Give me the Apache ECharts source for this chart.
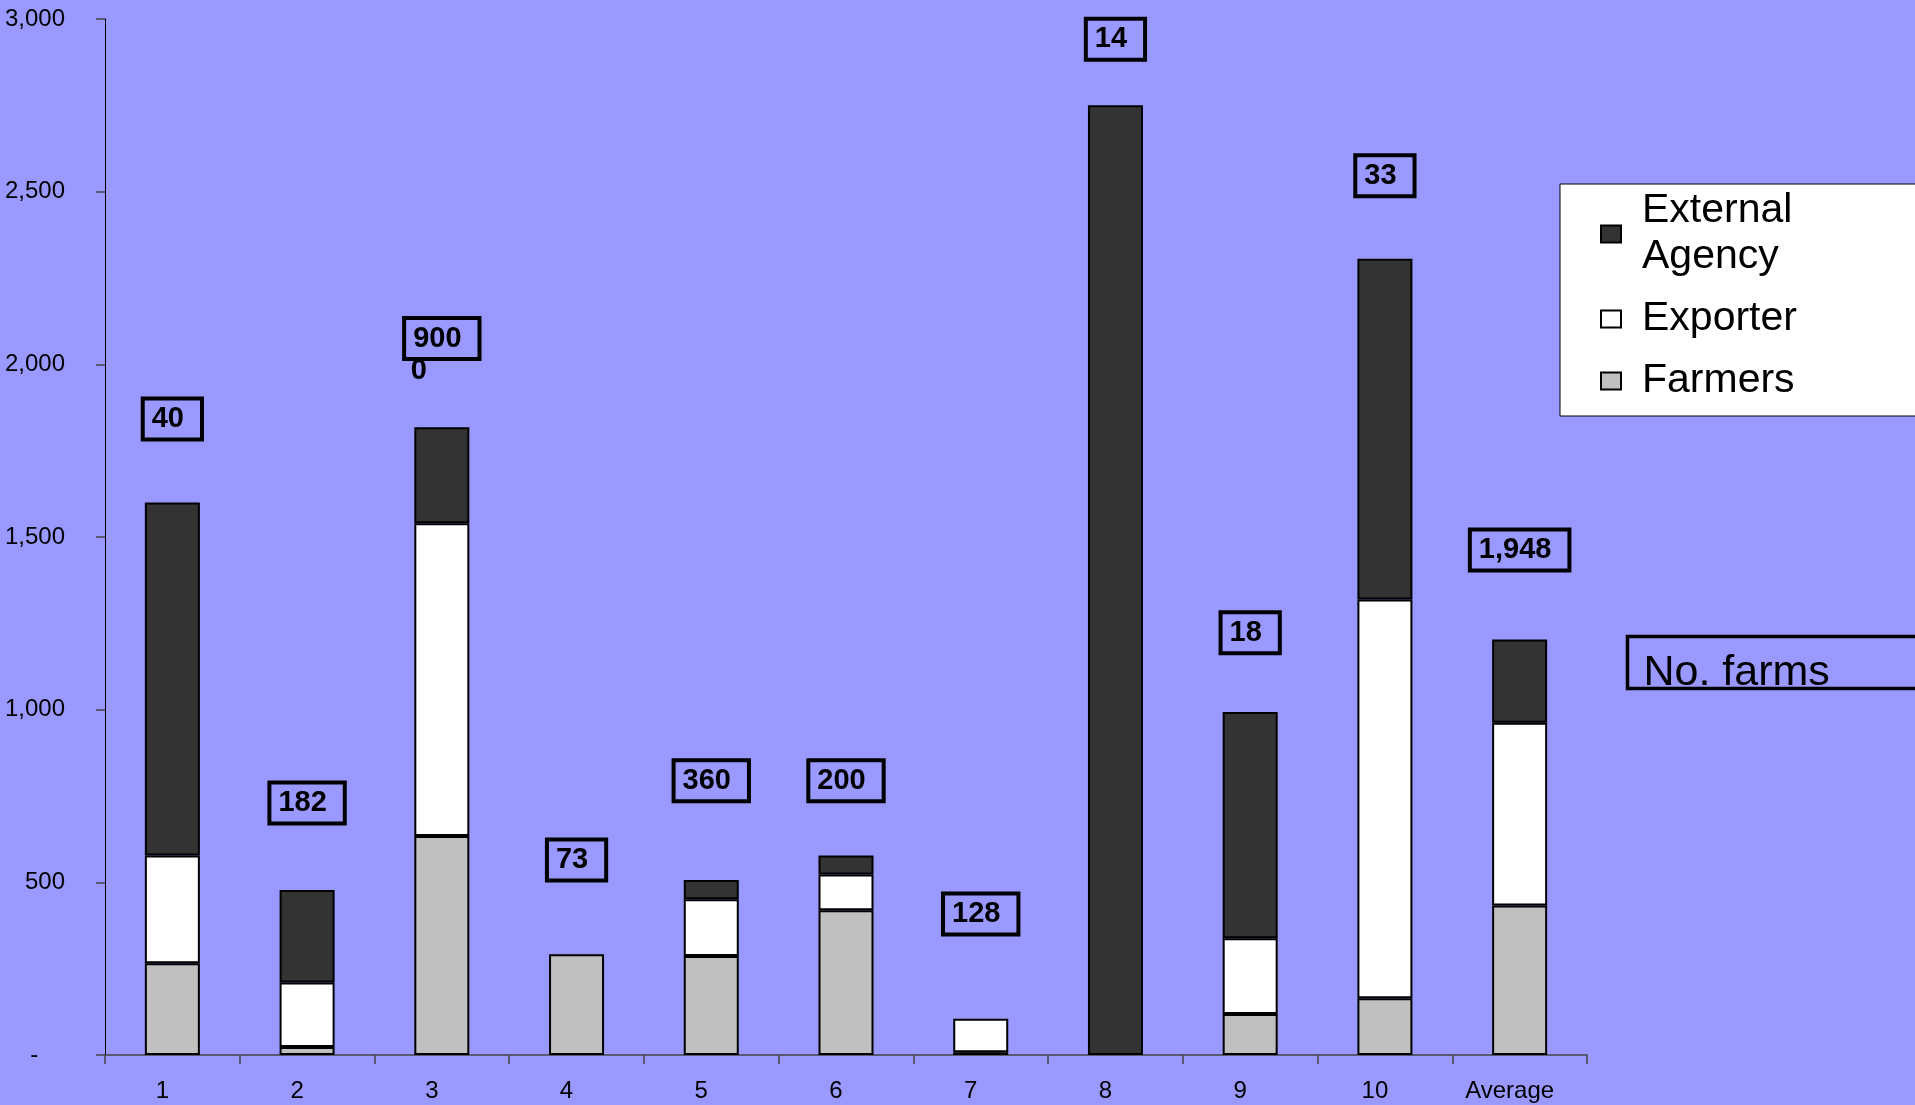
<!DOCTYPE html>
<html>
<head>
<meta charset="utf-8">
<script src="https://cdn.jsdelivr.net/npm/echarts@6/dist/echarts.min.js"></script>
<style>
  html, body { margin: 0; padding: 0; background: #9999ff; }
  #main { width: 1915px; height: 1105px; }
</style>
</head>
<body>
<div id="main"></div>
<script>
// categories and stacked values
var categories = ['1', '2', '3', '4', '5', '6', '7', '8', '9', '10', 'Average'];
var farmers  = [266, 23, 634, 292, 287, 419, 8, 0, 119, 164, 433];
var exporter = [312, 187, 906, 0, 164, 104, 97, 0, 219, 1155, 529];
var external = [1022, 268, 278, 0, 56, 55, 0, 2750, 655, 987, 241];
// number of farms shown in the boxes, and the value level each box sits at
var farmCounts = ['40', '182', '9000', '73', '360', '200', '128', '14', '18', '33', '1,948'];
var farmLabelAt = [1842, 730, 2034, 565, 794, 794, 408, 2941, 1223, 2546, 1462];

var FONT = "'Liberation Sans', Arial, sans-serif";

function nz(arr) {
  // no zero-height slivers
  return arr.map(function (v) { return v === 0 ? null : v; });
}

var chart = echarts.init(document.getElementById('main'));

var barStyle = function (c) {
  return { color: c, borderColor: '#000', borderWidth: 2 };
};

chart.setOption({
  backgroundColor: '#9999ff',
  animation: false,
  grid: { left: 105, right: 328, top: 19, bottom: 50 },
  legend: {
    orient: 'vertical',
    left: 1560,
    top: 184,
    data: ['External Agency', 'Exporter', 'Farmers'],
    icon: 'rect',
    backgroundColor: '#fff',
    borderColor: '#000',
    borderWidth: 1,
    padding: [4, 150, 12, 40],
    itemWidth: 20,
    itemHeight: 17,
    itemGap: 16,
    formatter: function (name) { return name.replace(' ', '\n'); },
    textStyle: {
      fontFamily: FONT,
      fontSize: 41,
      lineHeight: 46,
      color: '#000',
      padding: [0, 0, 0, 16]
    }
  },
  xAxis: {
    type: 'category',
    data: categories,
    axisLine: { lineStyle: { color: '#444', width: 1.5 } },
    axisTick: { show: true, length: 9, lineStyle: { color: '#444', width: 1.5 } },
    axisLabel: {
      margin: 24,
      fontFamily: FONT,
      fontSize: 24,
      color: '#000',
      padding: [0, 20, 0, 0]
    }
  },
  yAxis: {
    type: 'value',
    min: 0,
    max: 3000,
    interval: 500,
    splitLine: { show: false },
    axisLine: { show: true, lineStyle: { color: '#000', width: 1 } },
    axisTick: { show: true, length: 9, lineStyle: { color: '#444', width: 1.5 } },
    axisLabel: {
      margin: 40,
      fontFamily: FONT,
      fontSize: 24,
      color: '#000',
      formatter: function (v) {
        if (v === 0) return '-    ';
        return v.toLocaleString('en-US');
      }
    }
  },
  series: [
    {
      name: 'Farmers', type: 'bar', stack: 'total', barWidth: 55,
      itemStyle: barStyle('#c0c0c0'), data: nz(farmers)
    },
    {
      name: 'Exporter', type: 'bar', stack: 'total', barWidth: 55,
      itemStyle: barStyle('#ffffff'), data: nz(exporter)
    },
    {
      name: 'External Agency', type: 'bar', stack: 'total', barWidth: 55,
      itemStyle: barStyle('#333333'), data: nz(external)
    },
    {
      // boxed farm counts
      name: 'No. farms',
      type: 'scatter',
      symbolSize: 0,
      silent: true,
      itemStyle: { opacity: 1 },
      data: farmLabelAt.map(function (v, i) { return [i, v]; }),
      label: {
        show: true,
        position: 'inside',
        opacity: 1,
        color: '#000',
        formatter: function (p) {
          var s = farmCounts[p.dataIndex];
          // the long number does not fit and runs out of its box
          if (s.length > 3 && s.indexOf(',') < 0) {
            return '{b|' + s.slice(0, 3) + '}\n{o|' + s.slice(3) + '}';
          }
          return '{b|' + s + '}';
        },
        rich: {
          b: {
            fontFamily: FONT,
            fontSize: 29,
            fontWeight: 'bold',
            color: '#000',
            lineHeight: 30,
            borderColor: '#000',
            borderWidth: 4,
            padding: [6, 18, 6, 9]
          },
          o: {
            fontFamily: FONT,
            fontSize: 29,
            fontWeight: 'bold',
            color: '#000',
            lineHeight: 28,
            padding: [6, 46, 0, 0]
          }
        }
      }
    }
  ],
  graphic: [
    {
      type: 'group',
      left: 1625,
      top: 634,
      children: [
        {
          type: 'text',
          x: 16,
          y: 37,
          z2: 1,
          style: {
            text: 'No. farms',
            font: '43px ' + FONT,
            fill: '#000',
            verticalAlign: 'middle'
          }
        },
        {
          type: 'rect',
          z2: 2,
          shape: { x: 0, y: 0, width: 400, height: 52 },
          style: { fill: 'none', stroke: '#000', lineWidth: 3.5 }
        }
      ]
    }
  ]
});
</script>
</body>
</html>
